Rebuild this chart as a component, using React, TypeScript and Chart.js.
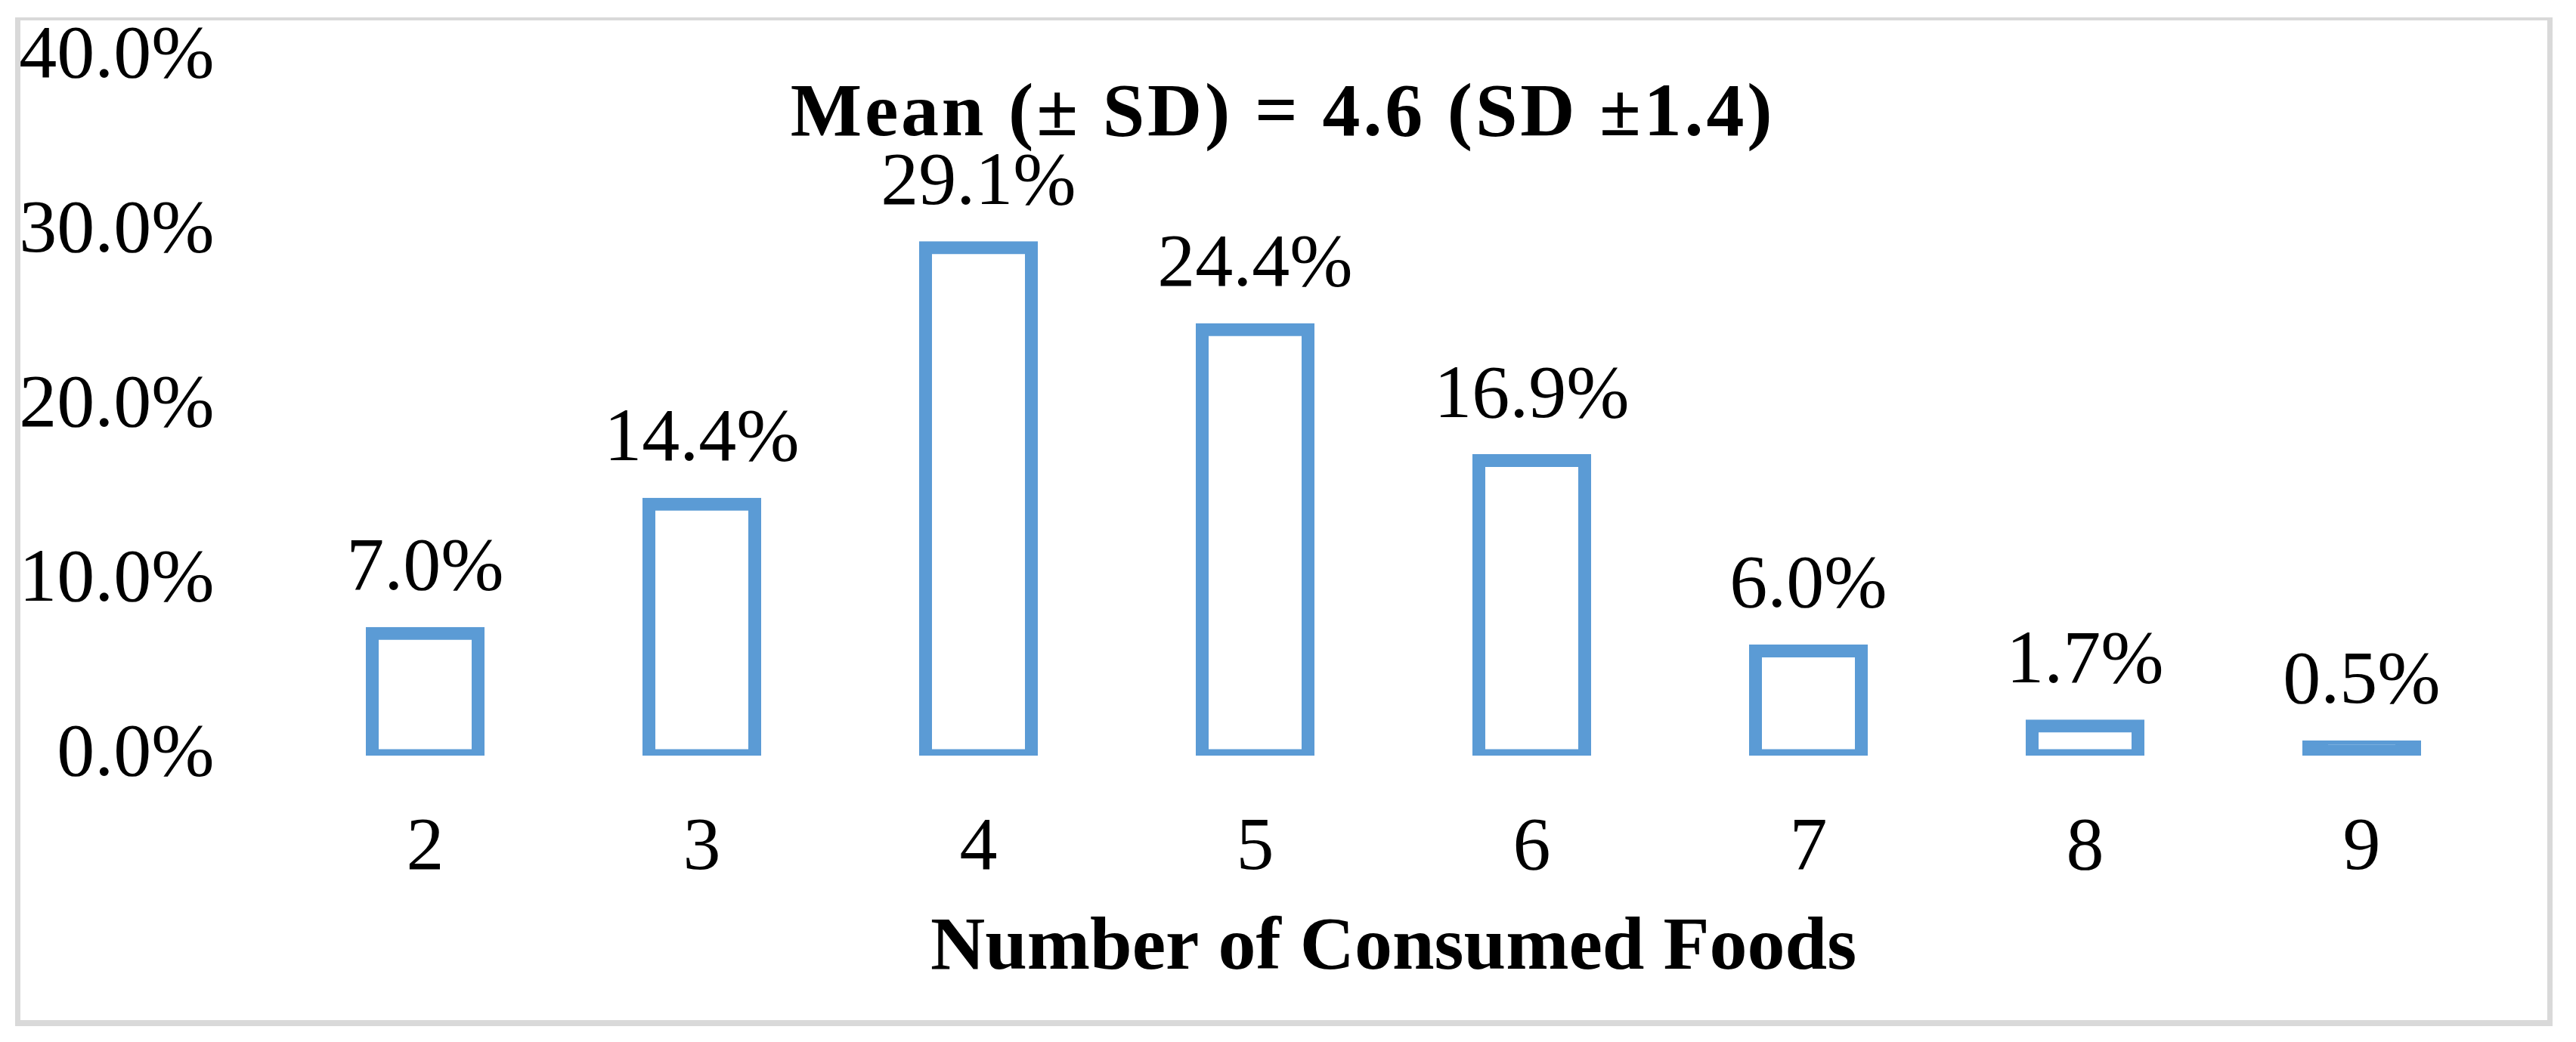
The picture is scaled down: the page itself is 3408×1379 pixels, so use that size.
import React, { useEffect, useRef } from 'react';
import { Chart, registerables } from 'chart.js';

Chart.register(...registerables);

// ---- data ----
const categories = ['2', '3', '4', '5', '6', '7', '8', '9'];
const percentages = [7.0, 14.4, 29.1, 24.4, 16.9, 6.0, 1.7, 0.5];
const yTickValues = [0, 10, 20, 30, 40];
const chartTitle = 'Mean (± SD) = 4.6 (SD ±1.4)';
const xAxisTitle = 'Number of Consumed Foods';

// ---- style ----
const W = 3408;
const H = 1379;
const BLUE = '#5B9BD5';
const SERIF = '"Liberation Serif", "Times New Roman", Times, serif';
const STROKE = 17;

const valueLabelPlugin = {
  id: 'valueLabels',
  afterDatasetsDraw(chart: any) {
    const ctx = chart.ctx;
    const meta = chart.getDatasetMeta(0);
    const data = chart.data.datasets[0].data as number[];
    ctx.save();
    ctx.fillStyle = '#000';
    ctx.font = `100px ${SERIF}`;
    ctx.textAlign = 'center';
    ctx.textBaseline = 'alphabetic';
    meta.data.forEach((el: any, i: number) => {
      ctx.fillText(Number(data[i]).toFixed(1) + '%', el.x, el.y - 58);
    });
    ctx.restore();
  },
};

const meanTitlePlugin = {
  id: 'meanTitle',
  afterDraw(chart: any) {
    const ctx = chart.ctx;
    ctx.save();
    ctx.fillStyle = '#000';
    ctx.font = `bold 100px ${SERIF}`;
    ctx.textAlign = 'center';
    ctx.textBaseline = 'alphabetic';
    try {
      (ctx as any).letterSpacing = '3.8px';
    } catch (e) {}
    ctx.fillText(chartTitle, 1697, 179);
    ctx.restore();
  },
};

export default function App() {
  const canvasRef = useRef<HTMLCanvasElement | null>(null);

  useEffect(() => {
    const canvas = canvasRef.current;
    if (!canvas) return;
    const chart = new Chart(canvas, {
      type: 'bar',
      data: {
        labels: categories,
        datasets: [
          {
            data: percentages,
            backgroundColor: (c: any) => {
              const s = c.chart && c.chart.scales ? c.chart.scales.y : null;
              if (!s || c.raw == null) return '#ffffff';
              const h = Math.abs(s.getPixelForValue(0) - s.getPixelForValue(c.raw));
              return h < STROKE ? BLUE : '#ffffff';
            },
            borderColor: BLUE,
            borderWidth: STROKE,
            borderSkipped: false,
            inflateAmount: STROKE / 2,
            categoryPercentage: 1,
            barPercentage: 140 / 366,
          } as any,
        ],
      },
      options: {
        responsive: false,
        animation: false,
        layout: { padding: { left: 20, right: 100.5, top: 76, bottom: 63 } },
        plugins: {
          legend: { display: false },
          title: { display: false },
          tooltip: { enabled: false },
        },
        scales: {
          x: {
            type: 'category',
            offset: true,
            grid: { display: false },
            border: { display: false },
            afterFit: (s: any) => {
              s.height = 316;
            },
            ticks: {
              color: '#000',
              font: { family: SERIF, size: 100 },
              padding: 56,
              maxRotation: 0,
              autoSkip: false,
            },
            title: {
              display: true,
              text: xAxisTitle,
              color: '#000',
              font: { family: SERIF, size: 100, weight: 'bold' },
              padding: { top: 20, bottom: 0 },
            },
          },
          y: {
            min: yTickValues[0],
            max: yTickValues[yTickValues.length - 1],
            grid: { display: false },
            border: { display: false },
            afterBuildTicks: (s: any) => {
              s.ticks = yTickValues.map((v) => ({ value: v }));
            },
            afterFit: (s: any) => {
              s.width = 359.5;
              s.paddingTop = 0;
              s.paddingBottom = 0;
            },
            ticks: {
              color: '#000',
              font: { family: SERIF, size: 100 },
              padding: 88,
              callback: (v: any) => Number(v).toFixed(1) + '%',
            },
          },
        },
      } as any,
      plugins: [valueLabelPlugin, meanTitlePlugin],
    });
    return () => chart.destroy();
  }, []);

  return (
    <div style={{ position: 'absolute', left: 0, top: 0, width: W, height: H, background: '#fff' }}>
      <canvas
        ref={canvasRef}
        width={W}
        height={H}
        style={{ position: 'absolute', left: 0, top: 0, width: W, height: H, display: 'block' }}
      />
      <div
        style={{
          position: 'absolute',
          left: 20,
          top: 23,
          width: 3357,
          height: 1335,
          boxSizing: 'border-box',
          borderStyle: 'solid',
          borderColor: '#d9d9d9',
          borderWidth: '4px 7px 8px 7px',
          pointerEvents: 'none',
        }}
      />
    </div>
  );
}
